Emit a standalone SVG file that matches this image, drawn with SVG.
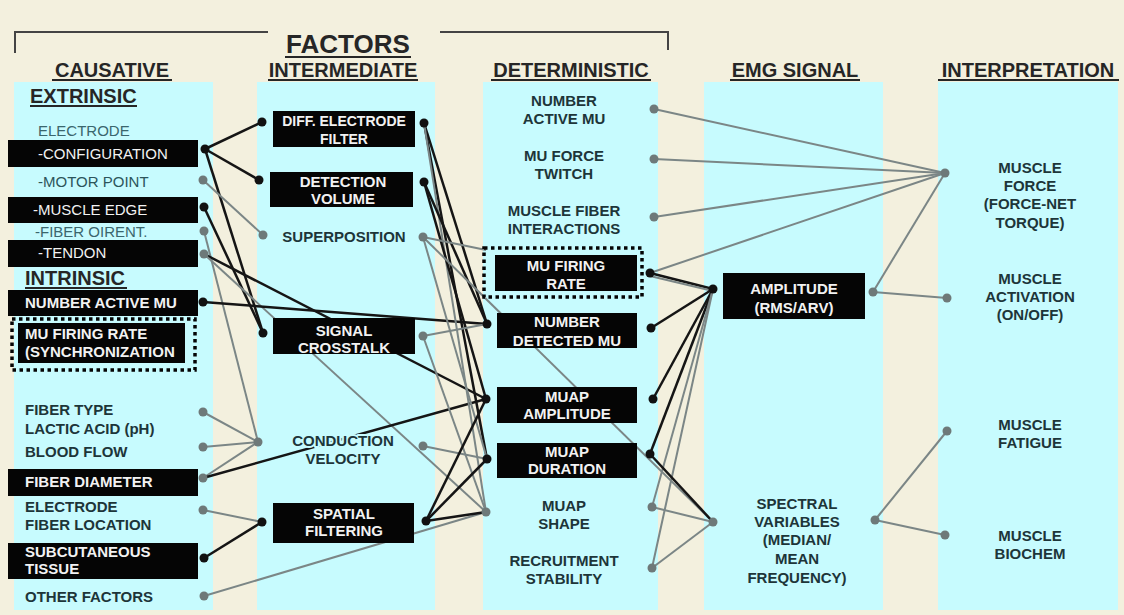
<svg xmlns="http://www.w3.org/2000/svg" width="1124" height="615" viewBox="0 0 1124 615">
<style>
.t{font-family:"Liberation Sans",Arial,sans-serif;font-weight:bold;font-size:15px;fill:#1d3539}
.c{text-anchor:middle}
.r{font-weight:normal}
.lt{fill:#3a666d}
.w{fill:#f2f2f2}
.hd{font-size:20px;fill:#262626}
.box{fill:#050505}
.lk{stroke:#151515;stroke-width:2.5;fill:none}
.lg{stroke:#7b8686;stroke-width:2;fill:none}
.dk{fill:#111}
.dg{fill:#6e7979}
.ul{stroke:#262626;stroke-width:2}
.dot{fill:none;stroke:#050505;stroke-width:3.5;stroke-dasharray:3.5 3.5}
.mask{stroke:#c7fbfe;stroke-width:4;paint-order:stroke;stroke-linejoin:round}
</style>
<rect x="0" y="0" width="1124" height="615" fill="#f3f0de"/>
<g id="panels" fill="#c7fbfe">
<rect x="14" y="82" width="199" height="528"/>
<rect x="257" y="82" width="178" height="528"/>
<rect x="483" y="82" width="175" height="528"/>
<rect x="704" y="82" width="179" height="528"/>
<rect x="938" y="82" width="180" height="528"/>
</g>
<g id="headers">
<path d="M15,53 V32 H268 M440,32 H668 V50" fill="none" stroke="#444" stroke-width="2"/>
<text class="t c" x="348" y="53" style="font-size:26px;fill:#262626">FACTORS</text>
<line class="ul" x1="285" y1="57" x2="411" y2="57"/>
<text class="t c hd" x="112" y="77">CAUSATIVE</text>
<line class="ul" x1="52" y1="80" x2="172" y2="80"/>
<text class="t c hd" x="343" y="77">INTERMEDIATE</text>
<line class="ul" x1="268" y1="80" x2="418" y2="80"/>
<text class="t c hd" x="571" y="77">DETERMINISTIC</text>
<line class="ul" x1="491" y1="80" x2="651" y2="80"/>
<text class="t c hd" x="795" y="77">EMG SIGNAL</text>
<line class="ul" x1="730" y1="80" x2="860" y2="80"/>
<text class="t c hd" x="1028" y="77">INTERPRETATION</text>
<line class="ul" x1="938" y1="80" x2="1119" y2="80"/>
<text class="t hd" x="30" y="103" style="font-size:20px">EXTRINSIC</text>
<line class="ul" x1="30" y1="106" x2="137" y2="106"/>
<text class="t hd" x="25" y="285">INTRINSIC</text>
<line class="ul" x1="25" y1="288" x2="127" y2="288"/>
</g>
<g id="connectors">
<line class="lk" x1="205" y1="149" x2="262" y2="122"/>
<line class="lk" x1="205" y1="149" x2="259" y2="180"/>
<line class="lk" x1="205" y1="149" x2="263" y2="333"/>
<line class="lg" x1="203" y1="180" x2="263" y2="235"/>
<line class="lk" x1="204" y1="207" x2="263" y2="333"/>
<line class="lg" x1="204" y1="231" x2="258" y2="442"/>
<line class="lk" x1="204" y1="254" x2="486" y2="399"/>
<line class="lg" x1="204" y1="254" x2="486" y2="512"/>
<line class="lk" x1="203" y1="302" x2="487" y2="324"/>
<line class="lg" x1="203" y1="412" x2="258" y2="442"/>
<line class="lg" x1="203" y1="447" x2="258" y2="442"/>
<line class="lg" x1="203" y1="478" x2="258" y2="442"/>
<line class="lk" x1="203" y1="478" x2="486" y2="399"/>
<line class="lg" x1="203" y1="510" x2="262" y2="522"/>
<line class="lk" x1="204" y1="558" x2="262" y2="522"/>
<line class="lg" x1="204" y1="596" x2="486" y2="512"/>
<line class="lk" x1="424" y1="123" x2="487" y2="324"/>
<line class="lk" x1="424" y1="123" x2="487" y2="459"/>
<line class="lg" x1="424" y1="123" x2="486" y2="512"/>
<line class="lk" x1="424" y1="182" x2="487" y2="324"/>
<line class="lk" x1="424" y1="182" x2="486" y2="399"/>
<line class="lg" x1="423" y1="237" x2="486" y2="250"/>
<line class="lg" x1="423" y1="237" x2="487" y2="459"/>
<line class="lg" x1="423" y1="237" x2="713" y2="522"/>
<line class="lg" x1="423" y1="336" x2="487" y2="324"/>
<line class="lg" x1="423" y1="336" x2="486" y2="512"/>
<line class="lg" x1="423" y1="446" x2="487" y2="459"/>
<line class="lk" x1="426" y1="521" x2="486" y2="399"/>
<line class="lk" x1="426" y1="521" x2="487" y2="459"/>
<line class="lk" x1="426" y1="521" x2="486" y2="512"/>
<line class="lk" x1="650" y1="273" x2="713" y2="289"/>
<line class="lg" x1="650" y1="276" x2="713" y2="291"/>
<line class="lk" x1="651" y1="328" x2="713" y2="289"/>
<line class="lk" x1="653" y1="399" x2="713" y2="289"/>
<line class="lk" x1="650" y1="454" x2="713" y2="289"/>
<line class="lg" x1="652" y1="507" x2="713" y2="289"/>
<line class="lg" x1="652" y1="568" x2="713" y2="289"/>
<line class="lk" x1="650" y1="454" x2="713" y2="522"/>
<line class="lg" x1="652" y1="507" x2="713" y2="522"/>
<line class="lg" x1="652" y1="568" x2="713" y2="522"/>
<line class="lg" x1="654" y1="109" x2="945" y2="173"/>
<line class="lg" x1="654" y1="159" x2="945" y2="173"/>
<line class="lg" x1="654" y1="217" x2="945" y2="173"/>
<line class="lg" x1="650" y1="273" x2="945" y2="173"/>
<line class="lg" x1="873" y1="292" x2="945" y2="173"/>
<line class="lg" x1="873" y1="292" x2="947" y2="298"/>
<line class="lg" x1="875" y1="520" x2="947" y2="431"/>
<line class="lg" x1="875" y1="520" x2="945" y2="535"/>
<g class="dk">
<circle cx="205" cy="149" r="4.5"/><circle cx="262" cy="122" r="4.5"/><circle cx="259" cy="180" r="4.5"/>
<circle cx="204" cy="207" r="4.5"/><circle cx="263" cy="333" r="4.5"/><circle cx="203" cy="302" r="4.5"/>
<circle cx="262" cy="522" r="4.5"/><circle cx="204" cy="558" r="4.5"/>
<circle cx="424" cy="123" r="4.5"/><circle cx="424" cy="182" r="4.5"/><circle cx="426" cy="521" r="4.5"/>
<circle cx="487" cy="324" r="4.5"/><circle cx="486" cy="399" r="4.5"/><circle cx="487" cy="459" r="4.5"/>
<circle cx="650" cy="273" r="4.5"/><circle cx="651" cy="328" r="4.5"/><circle cx="653" cy="399" r="4.5"/><circle cx="650" cy="454" r="4.5"/>
<circle cx="713" cy="289" r="4.5"/>
</g>
<g class="dg">
<circle cx="203" cy="180" r="4.5"/><circle cx="263" cy="235" r="4.5"/><circle cx="204" cy="231" r="4.5"/><circle cx="204" cy="254" r="4.5"/>
<circle cx="203" cy="412" r="4.5"/><circle cx="203" cy="447" r="4.5"/><circle cx="203" cy="478" r="4.5"/><circle cx="258" cy="442" r="4.5"/>
<circle cx="203" cy="510" r="4.5"/><circle cx="204" cy="596" r="4.5"/>
<circle cx="423" cy="237" r="4.5"/><circle cx="423" cy="336" r="4.5"/><circle cx="423" cy="446" r="4.5"/><circle cx="486" cy="512" r="4.5"/>
<circle cx="654" cy="109" r="4.5"/><circle cx="654" cy="159" r="4.5"/><circle cx="654" cy="217" r="4.5"/>
<circle cx="652" cy="507" r="4.5"/><circle cx="652" cy="568" r="4.5"/><circle cx="713" cy="522" r="4.5"/>
<circle cx="873" cy="292" r="4.5"/><circle cx="875" cy="520" r="4.5"/>
<circle cx="945" cy="173" r="4.5"/><circle cx="947" cy="298" r="4.5"/><circle cx="947" cy="431" r="4.5"/><circle cx="945" cy="535" r="4.5"/>
</g>
</g>
<g id="n-electrode"><text class="t r lt" x="38" y="136">ELECTRODE</text></g>
<g id="n-configuration"><rect class="box" x="8" y="140" width="190" height="27"/><text class="t r w" x="38" y="159">-CONFIGURATION</text></g>
<g id="n-motor-point"><text class="t r" x="38" y="187" style="fill:#2c555b">-MOTOR POINT</text></g>
<g id="n-muscle-edge"><rect class="box" x="8" y="197" width="190" height="26"/><text class="t r w" x="33" y="215">-MUSCLE EDGE</text></g>
<g id="n-fiber-orient"><text class="t r lt" x="35" y="237">-FIBER OIRENT.</text></g>
<g id="n-tendon"><rect class="box" x="8" y="240" width="190" height="27"/><text class="t r w" x="38" y="258">-TENDON</text></g>
<g id="n-number-active-mu-1"><rect class="box" x="8" y="290" width="190" height="26"/><text class="t w" x="25" y="308">NUMBER ACTIVE MU</text></g>
<g id="n-mu-firing-rate-1"><rect class="dot" x="12" y="319" width="183" height="51"/><rect class="box" x="18" y="323" width="167" height="40"/><text class="t w" x="25" y="339">MU FIRING RATE</text><text class="t w" x="25" y="357">(SYNCHRONIZATION</text></g>
<g id="n-fiber-type"><text class="t" x="25" y="415">FIBER TYPE</text><text class="t" x="25" y="434">LACTIC ACID (pH)</text></g>
<g id="n-blood-flow"><text class="t" x="25" y="457">BLOOD FLOW</text></g>
<g id="n-fiber-diameter"><rect class="box" x="8" y="469" width="190" height="27"/><text class="t w" x="25" y="487">FIBER DIAMETER</text></g>
<g id="n-electrode-fiber-location"><text class="t" x="25" y="512">ELECTRODE</text><text class="t" x="25" y="530">FIBER LOCATION</text></g>
<g id="n-subcutaneous"><rect class="box" x="8" y="543" width="190" height="36"/><text class="t w" x="25" y="557">SUBCUTANEOUS</text><text class="t w" x="25" y="574">TISSUE</text></g>
<g id="n-other-factors"><text class="t" x="25" y="602">OTHER FACTORS</text></g>
<g id="n-diff-electrode"><rect class="box" x="273" y="111" width="142" height="36"/><text class="t c w" x="344" y="126" style="font-size:14px">DIFF. ELECTRODE</text><text class="t c w" x="344" y="144" style="font-size:14px">FILTER</text></g>
<g id="n-detection-volume"><rect class="box" x="270" y="172" width="143" height="35"/><text class="t c w" x="343" y="187">DETECTION</text><text class="t c w" x="343" y="204">VOLUME</text></g>
<g id="n-superposition"><text class="t c" x="344" y="242">SUPERPOSITION</text></g>
<g id="n-signal-crosstalk"><rect class="box" x="273" y="318" width="142" height="36"/><text class="t c w" x="344" y="336">SIGNAL</text><text class="t c w" x="344" y="353">CROSSTALK</text></g>
<g id="n-conduction-velocity"><text class="t c mask" x="343" y="446">CONDUCTION</text><text class="t c mask" x="343" y="464">VELOCITY</text></g>
<g id="n-spatial-filtering"><rect class="box" x="273" y="503" width="141" height="40"/><text class="t c w" x="344" y="519">SPATIAL</text><text class="t c w" x="344" y="536">FILTERING</text></g>
<g id="n-number-active-mu-2"><text class="t c" x="564" y="106">NUMBER</text><text class="t c" x="564" y="124">ACTIVE MU</text></g>
<g id="n-mu-force-twitch"><text class="t c" x="564" y="161">MU FORCE</text><text class="t c" x="564" y="179">TWITCH</text></g>
<g id="n-muscle-fiber-interactions"><text class="t c" x="564" y="216">MUSCLE FIBER</text><text class="t c" x="564" y="234">INTERACTIONS</text></g>
<g id="n-mu-firing-rate-2"><rect class="dot" x="484" y="248" width="158" height="49"/><rect class="box" x="495" y="255" width="142" height="36"/><text class="t c w" x="566" y="271">MU FIRING</text><text class="t c w" x="566" y="289">RATE</text></g>
<g id="n-number-detected-mu"><rect class="box" x="497" y="313" width="140" height="35"/><text class="t c w" x="567" y="327">NUMBER</text><text class="t c w" x="567" y="346">DETECTED MU</text></g>
<g id="n-muap-amplitude"><rect class="box" x="497" y="387" width="140" height="36"/><text class="t c w" x="567" y="402">MUAP</text><text class="t c w" x="567" y="419">AMPLITUDE</text></g>
<g id="n-muap-duration"><rect class="box" x="497" y="443" width="140" height="35"/><text class="t c w" x="567" y="457">MUAP</text><text class="t c w" x="567" y="474">DURATION</text></g>
<g id="n-muap-shape"><text class="t c" x="564" y="511">MUAP</text><text class="t c" x="564" y="529">SHAPE</text></g>
<g id="n-recruitment-stability"><text class="t c" x="564" y="566">RECRUITMENT</text><text class="t c" x="564" y="584">STABILITY</text></g>
<g id="n-amplitude"><rect class="box" x="723" y="273" width="142" height="46"/><text class="t c w" x="794" y="294">AMPLITUDE</text><text class="t c w" x="794" y="313">(RMS/ARV)</text></g>
<g id="n-spectral"><text class="t c" x="797" y="509">SPECTRAL</text><text class="t c" x="797" y="527">VARIABLES</text><text class="t c" x="797" y="545">(MEDIAN/</text><text class="t c" x="797" y="564">MEAN</text><text class="t c" x="797" y="583">FREQUENCY)</text></g>
<g id="n-muscle-force"><text class="t c" x="1030" y="173">MUSCLE</text><text class="t c" x="1030" y="191">FORCE</text><text class="t c" x="1030" y="209">(FORCE-NET</text><text class="t c" x="1030" y="228">TORQUE)</text></g>
<g id="n-muscle-activation"><text class="t c" x="1030" y="284">MUSCLE</text><text class="t c" x="1030" y="302">ACTIVATION</text><text class="t c" x="1030" y="320">(ON/OFF)</text></g>
<g id="n-muscle-fatigue"><text class="t c" x="1030" y="430">MUSCLE</text><text class="t c" x="1030" y="448">FATIGUE</text></g>
<g id="n-muscle-biochem"><text class="t c" x="1030" y="541">MUSCLE</text><text class="t c" x="1030" y="559">BIOCHEM</text></g>
</svg>
